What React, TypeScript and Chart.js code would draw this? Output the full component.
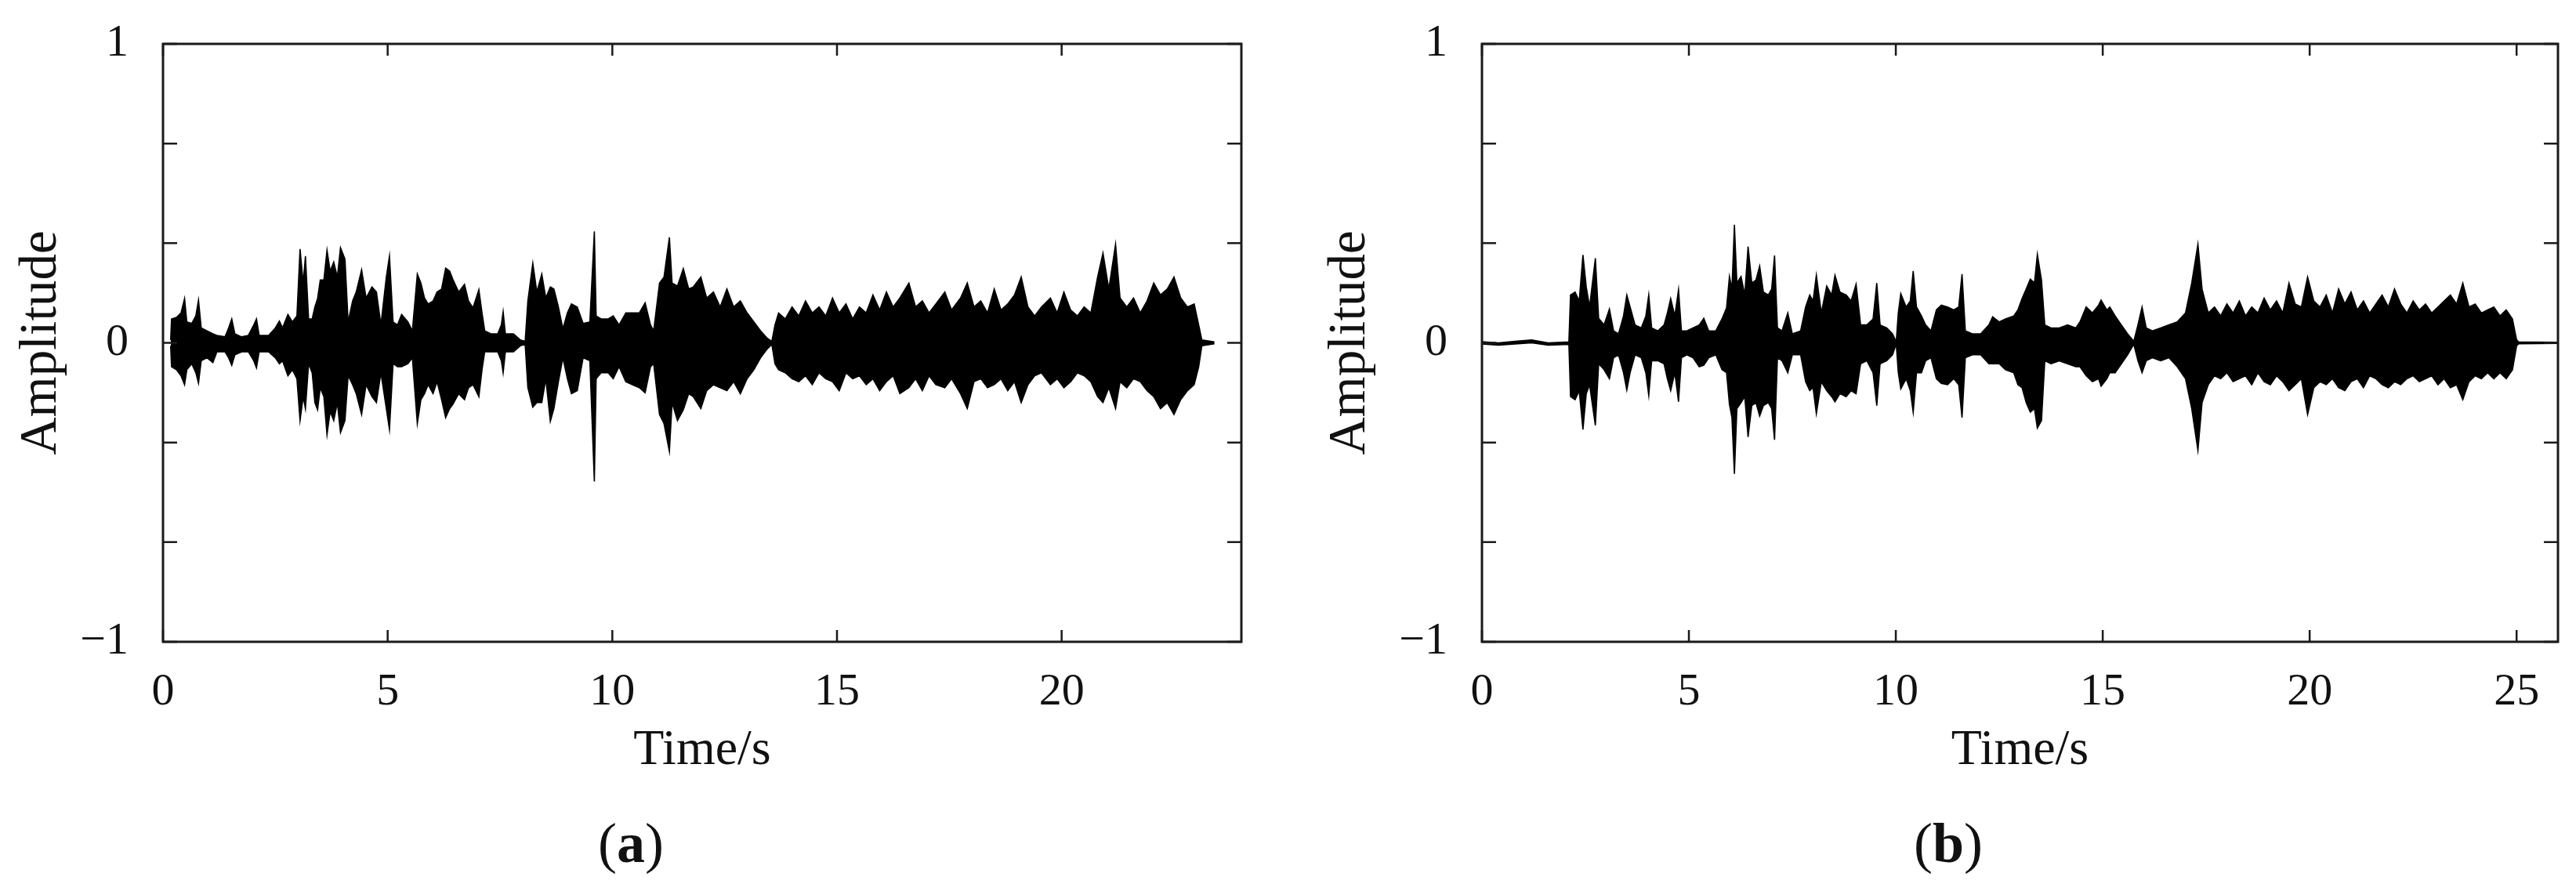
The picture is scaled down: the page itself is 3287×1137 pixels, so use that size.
import React, { useEffect, useRef } from "react";
import { Chart, registerables } from "chart.js";

Chart.register(...registerables);

const FONT = '"Liberation Serif", "Times New Roman", Times, serif';
const TEXT_COLOR = "#111";

// ---------- Panel (a): waveform envelope ----------
const A_TIME = [
  0.17, 0.19, 0.3, 0.4, 0.48, 0.53, 0.64, 0.73, 0.79, 0.85, 0.98, 1.11, 1.2, 1.38, 1.46, 1.53, 1.6, 1.75, 1.9,
  2.02, 2.08, 2.14, 2.35, 2.5, 2.59, 2.66, 2.78, 2.88, 2.98, 3.05, 3.12, 3.17, 3.24, 3.32, 3.38, 3.44, 3.5,
  3.58, 3.65, 3.72, 3.8, 3.88, 3.95, 4.05, 4.12, 4.22, 4.3, 4.42, 4.52, 4.65, 4.75, 4.85, 4.97, 5.04, 5.12,
  5.22, 5.31, 5.45, 5.55, 5.66, 5.74, 5.82, 5.9, 6.01, 6.1, 6.2, 6.29, 6.38, 6.45, 6.58, 6.71, 6.8, 6.9, 7.03,
  7.1, 7.16, 7.3, 7.45, 7.53, 7.57, 7.62, 7.8, 7.95, 8.06, 8.12, 8.23, 8.32, 8.43, 8.52, 8.62, 8.7, 8.8, 8.9,
  9.0, 9.09, 9.22, 9.35, 9.5, 9.6, 9.64, 9.75, 9.91, 10.02, 10.15, 10.3, 10.45, 10.6, 10.73, 10.85, 10.92,
  11.05, 11.15, 11.27, 11.33, 11.45, 11.58, 11.7, 11.8, 11.97, 12.1, 12.25, 12.4, 12.55, 12.7, 12.85, 13.0,
  13.15, 13.3, 13.45, 13.55, 13.62, 13.7, 13.85, 14.0, 14.15, 14.3, 14.45, 14.6, 14.75, 14.9, 15.05, 15.2,
  15.35, 15.5, 15.65, 15.8, 15.95, 16.1, 16.25, 16.4, 16.6, 16.75, 16.9, 17.05, 17.2, 17.4, 17.55, 17.75,
  17.9, 18.05, 18.2, 18.35, 18.5, 18.65, 18.8, 18.95, 19.1, 19.25, 19.4, 19.55, 19.75, 19.9, 20.05, 20.2,
  20.35, 20.5, 20.65, 20.8, 20.92, 21.05, 21.2, 21.3, 21.45, 21.6, 21.75, 21.9, 22.05, 22.2, 22.35, 22.5,
  22.65, 22.8, 22.95, 23.05, 23.12, 23.4,
];
const A_UPPER = [
  0.01, 0.08, 0.085, 0.1, 0.148, 0.07, 0.065, 0.09, 0.143, 0.05, 0.04, 0.03, 0.025, 0.02, 0.05, 0.08, 0.03, 0.02, 0.025,
  0.06, 0.08, 0.025, 0.025, 0.05, 0.073, 0.05, 0.095, 0.07, 0.09, 0.314, 0.2, 0.29, 0.08, 0.08, 0.12, 0.148, 0.21,
  0.21, 0.31, 0.24, 0.27, 0.22, 0.318, 0.28, 0.07, 0.14, 0.17, 0.244, 0.15, 0.187, 0.17, 0.06, 0.22, 0.29, 0.07,
  0.06, 0.095, 0.07, 0.04, 0.23, 0.2, 0.15, 0.13, 0.14, 0.17, 0.18, 0.25, 0.24, 0.213, 0.17, 0.196, 0.14, 0.117, 0.178,
  0.1, 0.04, 0.03, 0.03, 0.06, 0.104, 0.03, 0.03, 0.01, 0.005, 0.14, 0.266, 0.17, 0.23, 0.15, 0.187, 0.18, 0.12, 0.047,
  0.1, 0.13, 0.12, 0.065, 0.07, 0.373, 0.09, 0.08, 0.08, 0.09, 0.06, 0.1, 0.1, 0.1, 0.134, 0.06, 0.04,
  0.2, 0.22, 0.353, 0.2, 0.19, 0.248, 0.18, 0.187, 0.22, 0.15, 0.17, 0.12, 0.18, 0.12, 0.14, 0.1,
  0.07, 0.04, 0.015, 0.005, 0.06, 0.1, 0.08, 0.12, 0.09, 0.14, 0.1, 0.12, 0.09, 0.15, 0.1, 0.13,
  0.08, 0.12, 0.1, 0.16, 0.11, 0.17, 0.12, 0.15, 0.2, 0.12, 0.14, 0.1, 0.13, 0.17, 0.11, 0.15,
  0.2, 0.12, 0.14, 0.1, 0.18, 0.11, 0.13, 0.16, 0.22, 0.12, 0.09, 0.12, 0.15, 0.1, 0.17, 0.11,
  0.09, 0.12, 0.1, 0.22, 0.3, 0.18, 0.33, 0.15, 0.12, 0.15, 0.1, 0.14, 0.2, 0.16, 0.18, 0.22,
  0.15, 0.12, 0.13, 0.06, 0.01, 0.003,
];
const A_LOWER = [
  -0.01, -0.08, -0.09, -0.11, -0.14, -0.09, -0.07, -0.1, -0.135, -0.06, -0.05, -0.066, -0.03, -0.03, -0.05, -0.075, -0.04, -0.03, -0.03,
  -0.06, -0.084, -0.03, -0.03, -0.05, -0.07, -0.06, -0.11, -0.09, -0.12, -0.26, -0.18, -0.22, -0.07, -0.1, -0.2, -0.224, -0.15,
  -0.18, -0.307, -0.23, -0.26, -0.2, -0.3, -0.26, -0.11, -0.14, -0.17, -0.24, -0.14, -0.18, -0.2, -0.1, -0.22, -0.29, -0.07,
  -0.08, -0.08, -0.07, -0.05, -0.27, -0.19, -0.17, -0.14, -0.17, -0.13, -0.19, -0.25, -0.22, -0.206, -0.17, -0.19, -0.15, -0.14, -0.18,
  -0.09, -0.03, -0.03, -0.03, -0.06, -0.1, -0.03, -0.03, -0.01, -0.005, -0.15, -0.215, -0.2, -0.2, -0.12, -0.263, -0.22, -0.13, -0.05,
  -0.12, -0.17, -0.16, -0.05, -0.06, -0.464, -0.12, -0.1, -0.1, -0.12, -0.08, -0.13, -0.14, -0.15, -0.167, -0.08, -0.07,
  -0.24, -0.27, -0.363, -0.2, -0.26, -0.224, -0.17, -0.18, -0.22, -0.16, -0.14, -0.15, -0.16, -0.13, -0.17, -0.12,
  -0.09, -0.05, -0.02, -0.005, -0.07, -0.09, -0.1, -0.12, -0.13, -0.11, -0.14, -0.1, -0.12, -0.13, -0.16, -0.1,
  -0.12, -0.11, -0.14, -0.12, -0.16, -0.13, -0.11, -0.17, -0.15, -0.12, -0.16, -0.11, -0.14, -0.15, -0.12, -0.17,
  -0.22, -0.13, -0.12, -0.15, -0.14, -0.12, -0.16, -0.13, -0.2, -0.14, -0.11, -0.1, -0.14, -0.12, -0.15, -0.13,
  -0.1, -0.11, -0.13, -0.18, -0.2, -0.15, -0.22, -0.13, -0.15, -0.12, -0.13, -0.16, -0.18, -0.22, -0.2, -0.24,
  -0.19, -0.16, -0.14, -0.08, -0.01, -0.003,
];

// ---------- Panel (b) ----------
const B_TIME = [
  0.0, 0.4, 0.8, 1.2, 1.6, 2.1, 2.14, 2.25, 2.35, 2.44, 2.52, 2.6, 2.74, 2.82, 2.95, 3.08, 3.18, 3.3, 3.42, 3.5,
  3.58, 3.7, 3.85, 3.96, 4.03, 4.1, 4.25, 4.4, 4.48, 4.56, 4.66, 4.75, 4.82, 4.95, 5.1, 5.25, 5.36, 5.48, 5.65,
  5.8, 5.91, 5.98, 6.04, 6.1, 6.16, 6.26, 6.35, 6.43, 6.52, 6.62, 6.71, 6.8, 6.92, 7.0, 7.07, 7.14, 7.25, 7.39,
  7.5, 7.7, 7.82, 7.92, 8.0, 8.08, 8.2, 8.33, 8.45, 8.53, 8.65, 8.8, 8.92, 9.04, 9.15, 9.3, 9.45, 9.54, 9.62,
  9.78, 9.92, 10.01, 10.06, 10.12, 10.25, 10.35, 10.42, 10.5, 10.62, 10.72, 10.85, 10.98, 11.1, 11.25, 11.4,
  11.52, 11.6, 11.68, 11.85, 12.05, 12.25, 12.34, 12.5, 12.65, 12.85, 12.95, 13.05, 13.15, 13.25, 13.35, 13.42,
  13.52, 13.6, 13.75, 13.95, 14.15, 14.35, 14.45, 14.6, 14.75, 14.9, 14.96, 15.1, 15.17, 15.3, 15.45, 15.6,
  15.75, 15.85, 15.95, 16.05, 16.2, 16.4, 16.6, 16.8, 17.0, 17.15, 17.3, 17.4, 17.55, 17.7, 17.85, 18.0, 18.15,
  18.3, 18.45, 18.6, 18.75, 18.9, 19.05, 19.2, 19.35, 19.5, 19.65, 19.8, 19.95, 20.1, 20.25, 20.4, 20.55, 20.7,
  20.85, 21.0, 21.15, 21.3, 21.45, 21.6, 21.75, 21.9, 22.05, 22.2, 22.35, 22.5, 22.65, 22.8, 22.95, 23.1, 23.25,
  23.4, 23.55, 23.7, 23.85, 24.0, 24.15, 24.3, 24.45, 24.6, 24.75, 24.9, 25.0, 25.05, 26.0,
];
const B_UPPER = [
  0.004, 0.0, 0.005, 0.01, 0.0, 0.003, 0.16, 0.17, 0.14, 0.294, 0.187, 0.12, 0.283, 0.082, 0.06, 0.113, 0.04, 0.03, 0.09, 0.16,
  0.12, 0.06, 0.05, 0.09, 0.16, 0.05, 0.04, 0.06, 0.1, 0.148, 0.09, 0.178, 0.04, 0.04, 0.05, 0.06, 0.082, 0.04, 0.04,
  0.08, 0.117, 0.222, 0.18, 0.395, 0.2, 0.222, 0.16, 0.322, 0.2, 0.21, 0.257, 0.17, 0.16, 0.18, 0.292, 0.05, 0.04, 0.1,
  0.03, 0.04, 0.12, 0.16, 0.14, 0.226, 0.1, 0.19, 0.16, 0.226, 0.17, 0.16, 0.14, 0.196, 0.06, 0.06, 0.08, 0.2, 0.06,
  0.05, 0.03, 0.003, 0.1, 0.165, 0.12, 0.14, 0.24, 0.12, 0.09, 0.06, 0.04, 0.11, 0.126, 0.12, 0.11,
  0.12, 0.23, 0.04, 0.03, 0.03, 0.06, 0.087, 0.07, 0.08, 0.09, 0.11, 0.148, 0.18, 0.213, 0.2, 0.296,
  0.21, 0.06, 0.05, 0.05, 0.06, 0.05, 0.07, 0.12, 0.1, 0.126, 0.143, 0.11, 0.12, 0.09, 0.06, 0.03,
  0.005, 0.06, 0.12, 0.05, 0.04, 0.05, 0.06, 0.07, 0.1, 0.2, 0.33, 0.18, 0.1, 0.12, 0.09, 0.13, 0.1,
  0.14, 0.09, 0.12, 0.1, 0.15, 0.11, 0.14, 0.1, 0.2, 0.13, 0.12, 0.22, 0.14, 0.12, 0.16, 0.1, 0.18,
  0.13, 0.17, 0.11, 0.14, 0.1, 0.13, 0.16, 0.12, 0.18, 0.13, 0.1, 0.14, 0.11, 0.13, 0.1, 0.12, 0.14,
  0.16, 0.13, 0.2, 0.12, 0.13, 0.1, 0.11, 0.12, 0.09, 0.11, 0.08, 0.01, 0.003, 0.002,
];
const B_LOWER = [
  -0.004, -0.008, -0.004, 0.0, -0.008, -0.005, -0.18, -0.19, -0.16, -0.29, -0.17, -0.14, -0.276, -0.07, -0.09, -0.12, -0.05, -0.04, -0.1, -0.158,
  -0.1, -0.04, -0.05, -0.1, -0.176, -0.06, -0.06, -0.07, -0.12, -0.16, -0.1, -0.197, -0.05, -0.04, -0.05, -0.08, -0.075, -0.05, -0.04,
  -0.09, -0.1, -0.206, -0.25, -0.438, -0.22, -0.2, -0.18, -0.315, -0.21, -0.2, -0.245, -0.21, -0.2, -0.22, -0.324, -0.05, -0.06, -0.1,
  -0.04, -0.04, -0.13, -0.16, -0.15, -0.237, -0.13, -0.16, -0.18, -0.197, -0.17, -0.18, -0.16, -0.17, -0.07, -0.06, -0.1, -0.21, -0.07,
  -0.06, -0.04, -0.003, -0.1, -0.154, -0.12, -0.16, -0.232, -0.1, -0.1, -0.06, -0.05, -0.12, -0.136, -0.14, -0.12,
  -0.14, -0.25, -0.05, -0.04, -0.04, -0.07, -0.07, -0.07, -0.09, -0.1, -0.14, -0.15, -0.2, -0.232, -0.22, -0.285,
  -0.26, -0.06, -0.07, -0.06, -0.07, -0.08, -0.08, -0.11, -0.13, -0.12, -0.145, -0.12, -0.1, -0.1, -0.07, -0.04,
  -0.005, -0.06, -0.1, -0.06, -0.05, -0.06, -0.05, -0.08, -0.12, -0.22, -0.36, -0.2, -0.14, -0.11, -0.12, -0.1, -0.13,
  -0.12, -0.11, -0.14, -0.1, -0.13, -0.14, -0.11, -0.13, -0.16, -0.14, -0.12, -0.24, -0.15, -0.13, -0.14, -0.12, -0.15,
  -0.16, -0.13, -0.12, -0.15, -0.11, -0.12, -0.14, -0.15, -0.13, -0.14, -0.12, -0.11, -0.13, -0.12, -0.11, -0.14, -0.12,
  -0.15, -0.14, -0.19, -0.13, -0.11, -0.12, -0.1, -0.12, -0.1, -0.12, -0.09, -0.01, -0.003, -0.002,
];

const A_X_MAX = 24;
const B_X_MAX = 26;
const A_X_TICKS = [0, 5, 10, 15, 20];
const B_X_TICKS = [0, 5, 10, 15, 20, 25];
const Y_TICKS = [-1, -0.6667, -0.3333, 0, 0.3333, 0.6667, 1];
const Y_TICK_LABELS = ["\u22121", "", "", "0", "", "", "1"];
const X_TITLE = "Time/s";
const Y_TITLE = "Amplitude";
const CAPTIONS = ["a", "b"];

const PAGE_W = 3287;
const PAGE_H = 1137;

const boxPlugin = {
  id: "matlabBox",
  afterDatasetsDraw(chart: any) {
    const { ctx, chartArea } = chart;
    const { left, right, top, bottom } = chartArea;
    const xs = chart.scales.x;
    const ys = chart.scales.y;
    ctx.save();
    ctx.strokeStyle = "#1a1a1a";
    ctx.lineWidth = 2.5;
    ctx.beginPath();
    for (const t of xs.ticks) {
      const px = xs.getPixelForValue(t.value);
      ctx.moveTo(px, bottom);
      ctx.lineTo(px, bottom - 15);
      ctx.moveTo(px, top);
      ctx.lineTo(px, top + 15);
    }
    for (const t of ys.ticks) {
      const py = ys.getPixelForValue(t.value);
      ctx.moveTo(left, py);
      ctx.lineTo(left + 18, py);
      ctx.moveTo(right, py);
      ctx.lineTo(right - 18, py);
    }
    ctx.stroke();
    ctx.lineWidth = 3;
    ctx.strokeRect(left, top, right - left, bottom - top);
    ctx.restore();
  },
};

type PanelProps = {
  time: number[];
  upper: number[];
  lower: number[];
  xMax: number;
  xTicks: number[];
  left: number;
  width: number;
  padRight: number;
  yTitlePad: number;
};

function Panel({ time, upper, lower, xMax, xTicks, left, width, padRight, yTitlePad }: PanelProps) {
  const ref = useRef<HTMLCanvasElement>(null);
  useEffect(() => {
    if (!ref.current) return;
    const chart = new Chart(ref.current, {
      type: "line",
      data: {
        datasets: [
          {
            data: time.map((t, i) => ({ x: t, y: upper[i] })),
            borderColor: "#000",
            backgroundColor: "#000",
            borderWidth: 1.6,
            pointRadius: 0,
            tension: 0,
            fill: "+1",
          },
          {
            data: time.map((t, i) => ({ x: t, y: lower[i] })),
            borderColor: "#000",
            backgroundColor: "#000",
            borderWidth: 1.6,
            pointRadius: 0,
            tension: 0,
            fill: false,
          },
        ],
      },
      options: {
        animation: false,
        responsive: false,
        devicePixelRatio: 1,
        events: [],
        layout: { padding: { left: 0, top: 56, right: padRight, bottom: 0 } },
        plugins: { legend: { display: false }, tooltip: { enabled: false } },
        scales: {
          x: {
            type: "linear",
            min: 0,
            max: xMax,
            grid: { display: false },
            border: { display: false },
            afterBuildTicks: (s: any) => {
              s.ticks = xTicks.map((v) => ({ value: v }));
            },
            afterFit: (s: any) => {
              s.height = 318;
              s.paddingLeft = 0;
              s.paddingRight = 0;
            },
            ticks: {
              autoSkip: false,
              maxRotation: 0,
              padding: 22,
              color: TEXT_COLOR,
              font: { family: FONT, size: 58 },
              callback: (v: any) => String(v),
            },
            title: {
              display: true,
              text: X_TITLE,
              color: TEXT_COLOR,
              font: { family: FONT, size: 64 },
              padding: { top: 0, bottom: 140 },
            },
          },
          y: {
            type: "linear",
            min: -1,
            max: 1,
            grid: { display: false },
            border: { display: false },
            afterBuildTicks: (s: any) => {
              s.ticks = Y_TICKS.map((v) => ({ value: v }));
            },
            afterFit: (s: any) => {
              s.width = 208;
              s.paddingTop = 0;
              s.paddingBottom = 0;
            },
            ticks: {
              autoSkip: false,
              padding: 36,
              color: TEXT_COLOR,
              font: { family: FONT, size: 58 },
              callback: (_v: any, i: number) => Y_TICK_LABELS[i],
            },
            title: {
              display: true,
              text: Y_TITLE,
              color: TEXT_COLOR,
              font: { family: FONT, size: 67 },
              padding: { top: yTitlePad, bottom: 0 },
            },
          },
        },
      },
      plugins: [boxPlugin],
    } as any);
    return () => chart.destroy();
  }, []);
  return (
    <canvas
      ref={ref}
      width={width}
      height={PAGE_H}
      style={{ position: "absolute", left, top: 0, width, height: PAGE_H }}
    />
  );
}

function Caption({ letter, centerX }: { letter: string; centerX: number }) {
  return (
    <div
      style={{
        position: "absolute",
        left: centerX - 200,
        top: 1040,
        width: 400,
        textAlign: "center",
        fontFamily: FONT,
        fontSize: 72,
        lineHeight: "72px",
        color: TEXT_COLOR,
      }}
    >
      (<b>{letter}</b>)
    </div>
  );
}

export default function App() {
  return (
    <div
      style={{
        position: "absolute",
        left: 0,
        top: 0,
        width: PAGE_W,
        height: PAGE_H,
        background: "#fff",
        overflow: "hidden",
      }}
    >
      <Panel
        time={A_TIME}
        upper={A_UPPER}
        lower={A_LOWER}
        xMax={A_X_MAX}
        xTicks={A_X_TICKS}
        left={0}
        width={1640}
        padRight={56}
        yTitlePad={13}
      />
      <Panel
        time={B_TIME}
        upper={B_UPPER}
        lower={B_LOWER}
        xMax={B_X_MAX}
        xTicks={B_X_TICKS}
        left={1683}
        width={1604}
        padRight={23}
        yTitlePad={0}
      />
      <Caption letter={CAPTIONS[0]} centerX={805} />
      <Caption letter={CAPTIONS[1]} centerX={2486} />
    </div>
  );
}
